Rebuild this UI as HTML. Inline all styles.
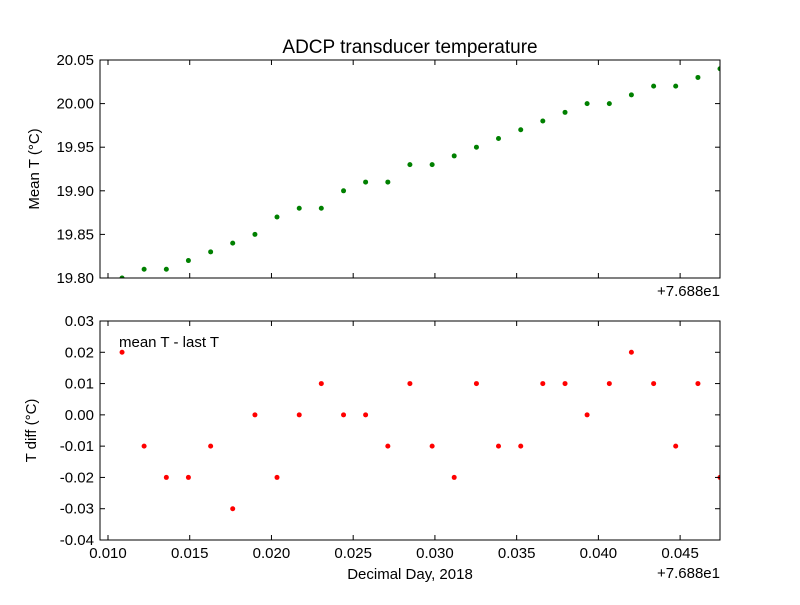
<!DOCTYPE html>
<html><head><meta charset="utf-8"><style>
body{margin:0;background:#fff}
svg text{font-family:"Liberation Sans","DejaVu Sans",sans-serif;fill:#000}
</style></head><body>
<svg id="chart" width="800" height="600" xmlns="http://www.w3.org/2000/svg">
<rect width="800" height="600" fill="#fff"/>
<text x="410" y="53" font-size="19" text-anchor="middle">ADCP transducer temperature</text>
<g id="top"></g>
<g id="bot"></g>
</svg>
<script>
const days=[0.01086,0.01221,0.01357,0.01492,0.01628,0.01763,0.01899,0.02034,0.02170,0.02305,0.02441,0.02576,0.02712,0.02847,0.02983,0.03118,0.03254,0.03389,0.03525,0.03660,0.03796,0.03931,0.04067,0.04202,0.04338,0.04473,0.04609,0.04744];
const meanT=[19.80,19.81,19.81,19.82,19.83,19.84,19.85,19.87,19.88,19.88,19.90,19.91,19.91,19.93,19.93,19.94,19.95,19.96,19.97,19.98,19.99,20.00,20.00,20.01,20.02,20.02,20.03,20.04];
const diffT=[0.02,-0.01,-0.02,-0.02,-0.01,-0.03,0.00,-0.02,0.00,0.01,0.00,0.00,-0.01,0.01,-0.01,-0.02,0.01,-0.01,-0.01,0.01,0.01,0.00,0.01,0.02,0.01,-0.01,0.01,-0.02];
const xTicks=[0.010,0.015,0.020,0.025,0.030,0.035,0.040,0.045];
const topTicks=[19.80,19.85,19.90,19.95,20.00,20.05];
const botTicks=[-0.04,-0.03,-0.02,-0.01,0.00,0.01,0.02,0.03];

const NS="http://www.w3.org/2000/svg";
const L=100,R=720;
const xMin=0.010-8/16370,xMax=0.04744;
const X=v=>L+(v-xMin)/(xMax-xMin)*(R-L);
function mk(p,tag,attrs){const e=document.createElementNS(NS,tag);for(const k in attrs)e.setAttribute(k,attrs[k]);p.appendChild(e);return e;}

function panel(g,top,bottom,yMin,yMax,yt,vals,color,fmt,ylabel,showX,name){
  const Y=v=>bottom-(v-yMin)/(yMax-yMin)*(bottom-top);
  const cid='clip'+name;
  const cp=mk(g,'clipPath',{id:cid});mk(cp,'rect',{x:L,y:top,width:R-L,height:bottom-top});
  const pts=mk(g,'g',{'clip-path':'url(#'+cid+')'});
  
  
  days.forEach((d,i)=>{
    const c=mk(pts,'circle',{cx:X(d),cy:Y(vals[i]),r:2.5,fill:color});
    
    
  });
  const f=mk(g,'rect',{x:L,y:top,width:R-L,height:bottom-top,fill:'none',stroke:'#000','stroke-width':1});
  
  
  yt.forEach(v=>{
    const y=Y(v);
    mk(g,'line',{x1:L,x2:L+5,y1:y,y2:y,stroke:'#000'});
    mk(g,'line',{x1:R,x2:R-5,y1:y,y2:y,stroke:'#000'});
    const t=mk(g,'text',{x:L-6,y:y+5,'font-size':15,'text-anchor':'end'});
    t.textContent=v.toFixed(fmt);
    
    
  });
  xTicks.forEach(v=>{
    const x=X(v);
    mk(g,'line',{x1:x,x2:x,y1:bottom,y2:bottom-5,stroke:'#000'});
    mk(g,'line',{x1:x,x2:x,y1:top,y2:top+5,stroke:'#000'});
    if(showX){
      const t=mk(g,'text',{x:x,y:bottom+18,'font-size':15,'text-anchor':'middle'});
      t.textContent=v.toFixed(3);
      
      
    }
  });
  const cy=(top+bottom)/2;
  const yl=mk(g,'text',{x:0,y:0,'font-size':15,'text-anchor':'middle',transform:`translate(${name==='top'?39:36},${cy}) rotate(-90)`});
  yl.textContent=ylabel;
  
  
  const off=mk(g,'text',{x:R,y:bottom+(showX?38:18),'font-size':15,'text-anchor':'end'});
  off.textContent='+7.688e1';
  
  
}
panel(document.getElementById('top'),60,278,19.80,20.05,topTicks,meanT,'#008000',2,'Mean T (°C)',false,'top');
panel(document.getElementById('bot'),321,540,-0.04,0.03,botTicks,diffT,'#ff0000',2,'T diff (°C)',true,'bot');
const ann=mk(document.getElementById('bot'),'text',{x:119,y:347,'font-size':15});
ann.textContent='mean T - last T';


const xl=mk(document.getElementById('bot'),'text',{x:410,y:579,'font-size':15,'text-anchor':'middle'});
xl.textContent='Decimal Day, 2018';


</script>
</body></html>
